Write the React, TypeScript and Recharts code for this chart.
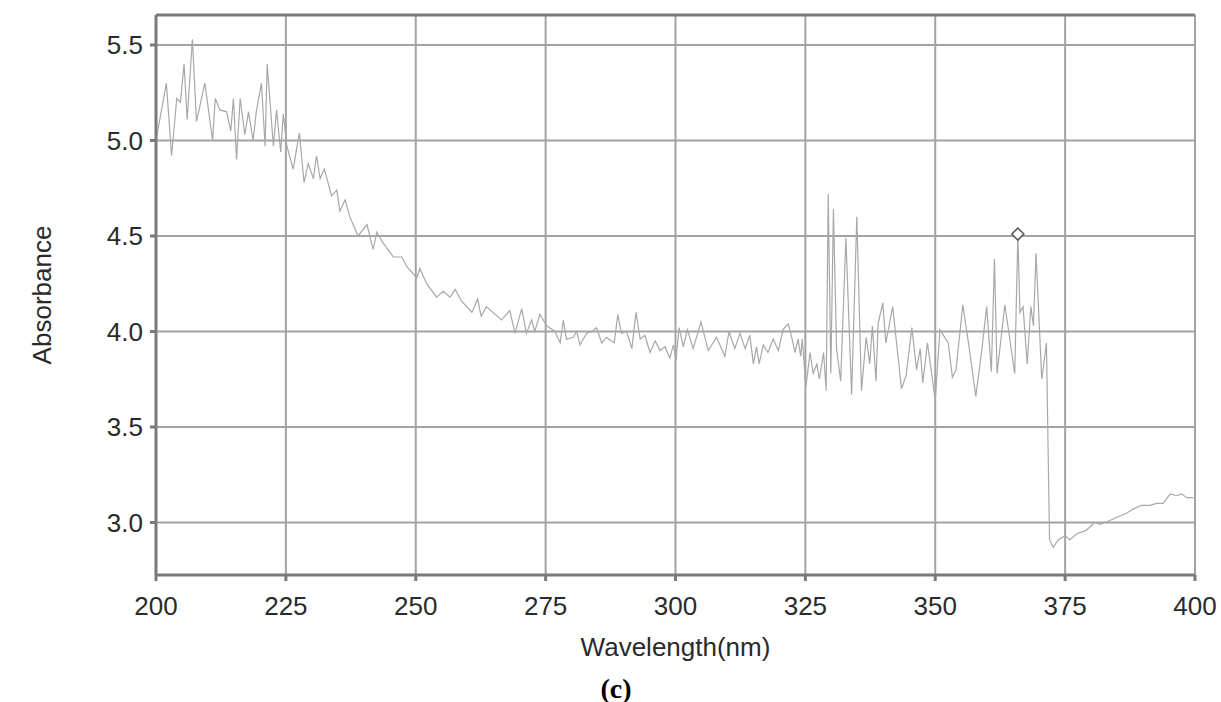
import { CartesianGrid, Line, LineChart, ReferenceDot, ReferenceLine, XAxis, YAxis } from 'recharts';

const wavelength = [
  200, 202, 203, 204, 204.7, 205.4, 206, 207, 207.8, 209.4, 210.9, 211.4, 212.3, 213.6, 214.4, 214.9,
  215.5, 216.2, 217.1, 217.8, 218.7, 219.3, 220.3, 221, 221.4, 222.6, 223.2, 224, 224.5, 225.2, 226.4,
  227.6, 228.5, 229.3, 230.3, 230.9, 231.6, 232.4, 233.8, 234.8, 235.4, 236.4, 237.3, 238.9, 240.6,
  241.8, 242.5, 243.8, 245.7, 247.3, 248.3, 250.2, 250.8, 252.1, 254, 255.3, 256.6, 257.6, 258.8, 260.8,
  261.9, 262.6, 263.6, 266.5, 268.1, 269.1, 270.4, 271.3, 272.3, 272.9, 273.9, 275.2, 276.8, 277.8,
  278.4, 279, 280.3, 281, 281.6, 282.9, 283.8, 284.8, 285.8, 286.7, 288.2, 288.9, 289.6, 290.6, 291.6,
  292.4, 293.2, 294.1, 295.1, 296.1, 297, 298, 298.9, 299.6, 300.1, 300.7, 301.5, 302.3, 303.4, 304.9,
  306.3, 307.9, 309.5, 310.3, 311.4, 312.4, 313.4, 314.3, 315, 315.6, 316.1, 316.9, 317.8, 318.8, 319.8,
  320.7, 321.7, 322.3, 323, 323.6, 324.1, 324.4, 325.1, 325.9, 326.5, 327.2, 327.7, 328.5, 329, 329.4,
  329.9, 330.4, 331, 331.8, 332.8, 333.9, 334.9, 335.8, 336.7, 337.4, 337.9, 338.6, 339, 339.9, 340.5,
  341.8, 343.5, 344.4, 345.5, 346.4, 347.1, 347.6, 348.5, 350, 350.9, 352.5, 353.3, 354, 355.3, 356.4,
  357.8, 358.9, 359.9, 360.8, 361.4, 361.9, 363.4, 365.3, 365.9, 366.3, 366.9, 367.7, 368.4, 368.9,
  369.4, 370.5, 371.4, 372, 372.7, 373.7, 375, 375.9, 377.2, 379.1, 380.7, 381.7, 383.6, 385.2, 386.9,
  388.1, 389.7, 391.3, 392.6, 393.9, 395.2, 396.5, 397.4, 398.4, 399.7,
];

const absorbance = [
  5.0, 5.3, 4.92, 5.22, 5.2, 5.4, 5.11, 5.53, 5.1, 5.3, 5.0, 5.22, 5.16, 5.15, 5.05, 5.22,
  4.9, 5.22, 5.03, 5.15, 5.0, 5.15, 5.3, 4.97, 5.4, 4.97, 5.16, 4.94, 5.14, 4.97, 4.85,
  5.04, 4.78, 4.88, 4.8, 4.92, 4.8, 4.85, 4.71, 4.74, 4.63, 4.69, 4.6, 4.5, 4.56,
  4.43, 4.52, 4.46, 4.39, 4.39, 4.34, 4.28, 4.33, 4.25, 4.18, 4.21, 4.18, 4.22, 4.16, 4.1,
  4.17, 4.08, 4.13, 4.06, 4.11, 3.99, 4.12, 3.99, 4.06, 4.0, 4.09, 4.03, 4.0, 3.94,
  4.06, 3.96, 3.97, 4.0, 3.93, 3.99, 4.0, 4.02, 3.94, 3.97, 3.94, 4.09, 3.99, 4.0, 3.91,
  4.1, 3.96, 3.98, 3.89, 3.95, 3.9, 3.92, 3.86, 3.93, 3.85, 4.02, 3.92, 4.01, 3.91, 4.05,
  3.9, 3.97, 3.87, 4.0, 3.91, 3.99, 3.91, 3.98, 3.83, 3.92, 3.83, 3.93, 3.89, 3.96, 3.9,
  4.01, 4.04, 3.98, 3.89, 3.96, 3.87, 3.96, 3.71, 3.89, 3.78, 3.83, 3.75, 3.89, 3.69, 4.72,
  3.78, 4.64, 3.91, 3.74, 4.49, 3.67, 4.6, 3.69, 3.97, 3.83, 4.03, 3.74, 4.04, 4.15, 3.94,
  4.13, 3.7, 3.77, 4.02, 3.8, 3.91, 3.73, 3.94, 3.64, 4.01, 3.94, 3.76, 3.8, 4.14, 3.94,
  3.66, 3.89, 4.13, 3.79, 4.38, 3.78, 4.14, 3.78, 4.51, 4.1, 4.13, 3.83, 4.13, 4.03,
  4.41, 3.75, 3.94, 2.91, 2.87, 2.91, 2.93, 2.91, 2.94, 2.96, 3.0, 2.99, 3.01, 3.03, 3.05,
  3.07, 3.09, 3.09, 3.1, 3.1, 3.15, 3.14, 3.15, 3.13, 3.13,
];

const xTicks = [200, 225, 250, 275, 300, 325, 350, 375, 400];
const yTicks = [3.0, 3.5, 4.0, 4.5, 5.0, 5.5];
const yDomain: [number, number] = [2.725, 5.657];
const marker = { wl: 365.9, abs: 4.51 };

const rows = wavelength.map((wl, i) => ({ wl, abs: absorbance[i] }));

const font = "'Liberation Sans', Arial, sans-serif";
const tickStyle = { fontSize: 26, fill: '#2a2a2a', fontFamily: font };

function Diamond({ cx, cy }: { cx?: number; cy?: number }) {
  if (cx == null || cy == null) return null;
  const r = 6;
  return (
    <path
      d={`M${cx},${cy - r} L${cx + r},${cy} L${cx},${cy + r} L${cx - r},${cy} Z`}
      fill="#fff"
      stroke="#555"
      strokeWidth={1.5}
    />
  );
}

export default function App() {
  return (
    <div style={{ position: 'absolute', left: 0, top: 0, width: 1221, height: 702, background: '#fff' }}>
      <LineChart width={1221} height={702} data={rows} margin={{ top: 15, right: 26, left: 0, bottom: 27 }}>
        <CartesianGrid stroke="#a3a3a3" strokeWidth={2} />
        <XAxis
          dataKey="wl"
          type="number"
          domain={[200, 400]}
          ticks={xTicks}
          height={100}
          tick={tickStyle}
          tickSize={6}
          tickMargin={16}
          stroke="#7a7a7a"
          strokeWidth={3}
          label={{ value: 'Wavelength(nm)', position: 'insideBottom', offset: 19, style: { ...tickStyle } }}
        />
        <YAxis
          type="number"
          domain={yDomain}
          ticks={yTicks}
          width={156}
          allowDataOverflow
          tickFormatter={(v: number) => v.toFixed(1)}
          tick={tickStyle}
          tickSize={6}
          tickMargin={7}
          stroke="#7a7a7a"
          strokeWidth={3}
          label={{
            value: 'Absorbance',
            angle: -90,
            position: 'insideLeft',
            offset: 42,
            style: { ...tickStyle, textAnchor: 'middle' },
          }}
        />
        <ReferenceLine y={yDomain[1]} stroke="#7a7a7a" strokeWidth={3} />
        <Line
          type="linear"
          dataKey="abs"
          stroke="#a8a8a8"
          strokeWidth={1.2}
          dot={false}
          isAnimationActive={false}
        />
        <ReferenceDot x={marker.wl} y={marker.abs} shape={<Diamond />} />
      </LineChart>
      <div
        style={{
          position: 'absolute',
          left: 0,
          width: 1232,
          top: 674,
          textAlign: 'center',
          fontFamily: "'Liberation Serif', 'Times New Roman', serif",
          fontWeight: 'bold',
          fontSize: 28,
          lineHeight: '30px',
          color: '#000',
        }}
      >
        (c)
      </div>
    </div>
  );
}
